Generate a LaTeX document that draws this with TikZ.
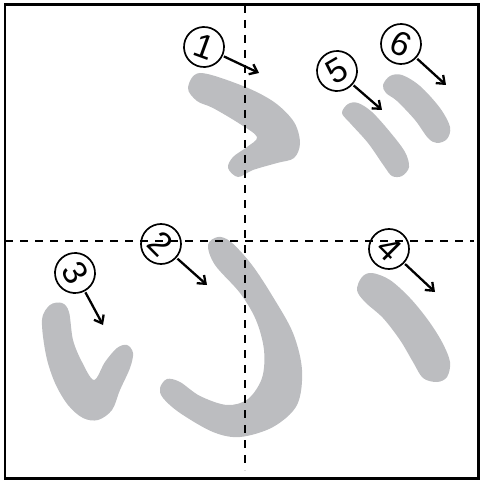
\documentclass[tikz,border=0pt]{standalone}
\usepackage{fontspec}
\setmainfont{Liberation Sans}
\usetikzlibrary{arrows.meta}
\definecolor{brushgrey}{HTML}{BCBDC0}
\begin{document}
\begin{tikzpicture}[x=1pt,y=-1pt,
  brush/.style={fill=brushgrey},
  numc/.style={circle,draw,line width=1.7pt,minimum size=40pt,inner sep=0pt,outer sep=2pt,font=\fontsize{34}{34}\selectfont},
  ptr/.style={line width=2.3pt,-{Straight Barb[length=7pt,width=11pt,line width=2.3pt]}},
  guide/.style={line width=2.4pt,dash pattern=on 8pt off 7pt}]
\useasboundingbox (0,0) rectangle (481,481);
% brush strokes
\fill[brush] plot[smooth cycle,tension=0.55] coordinates {(188,88) (200,73) (243,86) (274,102) (294,122) (300,143) (294,158) (277,163) (253,170) (238,177) (228,168) (233,157) (247,147) (257,137) (240,124) (213,108) (197,101)};
\fill[brush] plot[smooth cycle,tension=0.55] coordinates {(208,245) (218,237) (231,242) (252,265) (273,297) (293,333) (302,370) (297,405) (273,427) (240,437) (213,432) (180,413) (163,398) (160,388) (167,379) (180,382) (200,396) (227,405) (248,399) (262,378) (264,350) (256,320) (240,293) (215,265)};
\fill[brush] plot[smooth cycle,tension=0.55] coordinates {(42,320) (50,305) (62,303) (69,312) (73,340) (82,362) (94,380) (105,362) (117,348) (127,345) (133,353) (130,368) (120,390) (112,410) (98,420) (83,418) (68,405) (55,383) (46,355)};
\fill[brush] plot[smooth cycle,tension=0.55] coordinates {(357,290) (362,277) (372,273) (390,280) (410,298) (428,320) (442,342) (450,362) (447,377) (437,382) (423,378) (413,362) (400,340) (383,318) (365,302)};
\fill[brush] plot[smooth cycle,tension=0.55] coordinates {(342,113) (348,104) (358,103) (372,112) (390,132) (405,152) (409,167) (402,176) (392,176) (384,166) (368,143) (350,123)};
\fill[brush] plot[smooth cycle,tension=0.55] coordinates {(383,85) (390,76) (402,75) (420,86) (440,108) (450,127) (447,139) (437,143) (428,138) (415,120) (397,101) (386,93)};
% guides and frame
\coordinate (vt) at (245,5);
\coordinate (vb) at (245,470);
\coordinate (hl) at (5,241);
\coordinate (hr) at (474,241);
\draw[guide] (vt) -- (vb);
\draw[guide] (hl) -- (hr);
\draw[line width=2.6pt] (5,4.5) rectangle (478.5,478.5);
% numbers
\node[numc,rotate=-20] (n1) at (204,47) {1};
\node[numc,rotate=-45] (n2) at (161,244) {2};
\node[numc,rotate=-60] (n3) at (75,273) {3};
\node[numc,rotate=-45] (n4) at (389,249) {4};
\node[numc,rotate=30] (n5) at (337,71) {5};
\node[numc,rotate=-25] (n6) at (401,44) {6};
\coordinate (e1) at (259,73);
\coordinate (e2) at (207,285);
\coordinate (e3) at (103,325);
\coordinate (e4) at (435,292);
\coordinate (e5) at (382,110);
\coordinate (e6) at (446,85);
\draw[ptr] (n1) -- (e1);
\draw[ptr] (n2) -- (e2);
\draw[ptr] (n3) -- (e3);
\draw[ptr] (n4) -- (e4);
\draw[ptr] (n5) -- (e5);
\draw[ptr] (n6) -- (e6);
\end{tikzpicture}
\end{document}
